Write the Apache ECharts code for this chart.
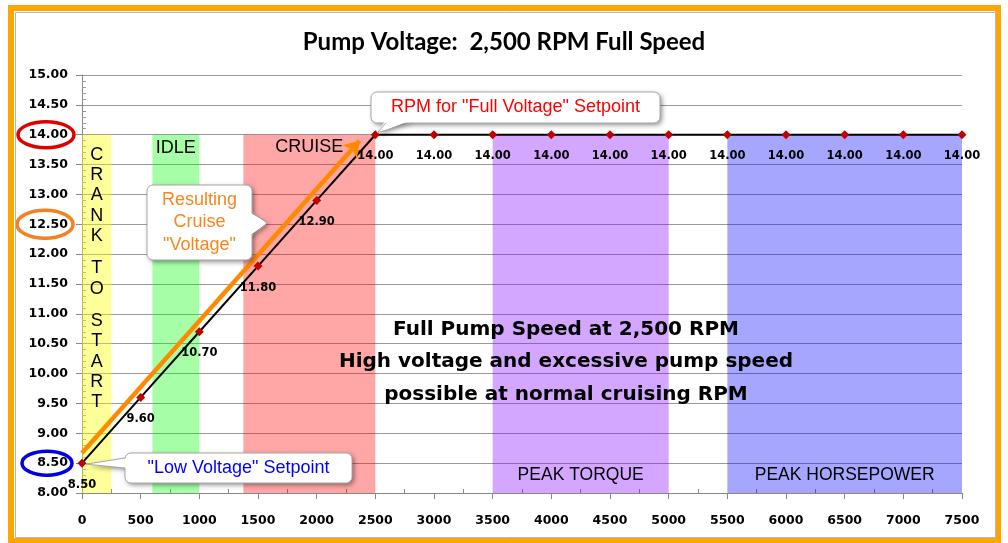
<!DOCTYPE html>
<html><head><meta charset="utf-8">
<script src="https://cdn.jsdelivr.net/npm/echarts@6/dist/echarts.min.js"></script>
<style>html,body{margin:0;padding:0;background:#fff}#c{width:1008px;height:543px}</style>
</head><body><div id="c"></div>
<script>
// ---- data ----
const rpm = [0, 500, 1000, 1500, 2000, 2500, 3000, 3500, 4000, 4500, 5000, 5500, 6000, 6500, 7000, 7500];
const voltage = [8.50, 9.60, 10.70, 11.80, 12.90, 14.00, 14.00, 14.00, 14.00, 14.00, 14.00, 14.00, 14.00, 14.00, 14.00, 14.00];
const xMin = 0, xMax = 7500, xStep = 500;
const yMin = 8, yMax = 15, yStep = 0.5;
const bandNames = ['CRANK TO START', 'IDLE', 'CRUISE', 'PEAK TORQUE', 'PEAK HORSEPOWER'];
const bandFrom = [0, 600, 1375, 3500, 5500];
const bandTo = [250, 1000, 2500, 5000, 7500];
const bandBottom = 8, bandTop = 14;
const arrowStart = [0, 8.67];
const arrowEnd = [2365, 13.9];
const circledTicks = [14.0, 12.5, 8.5];
const calloutFull = 'RPM for "Full Voltage" Setpoint';
const calloutCruise = 'Resulting\nCruise\n"Voltage"';
const calloutLow = '"Low Voltage" Setpoint';
const noteText = 'Full Pump Speed at 2,500 RPM\nHigh voltage and excessive pump speed\npossible at normal cruising RPM';
const titleText = 'Pump Voltage:  2,500 RPM Full Speed';

// ---- styles ----
const bandColors = ['rgba(255,255,0,0.40)', 'rgba(0,255,0,0.35)', 'rgba(255,0,0,0.35)', 'rgba(128,0,255,0.35)', 'rgba(0,0,255,0.35)'];
const bandLabel = [
  { position: 'insideTop', distance: 10, fontSize: 18, lineHeight: 20.3,
    formatter: 'C\nR\nA\nN\nK\n{s| }\nT\nO\n{s| }\nS\nT\nA\nR\nT', rich: { s: { lineHeight: 12, fontSize: 2 } } },
  { position: 'insideTop', distance: 4, fontSize: 18 },
  { position: 'insideTop', distance: 3, fontSize: 18 },
  { position: 'insideBottom', distance: 9, fontSize: 17.5 },
  { position: 'insideBottom', distance: 9, fontSize: 17.5 }
];

const chart = echarts.init(document.getElementById('c'), null, { renderer: 'canvas' });

const areaData = bandNames.map((n, i) => {
  const lab = Object.assign({ show: true, color: '#000', fontFamily: 'Liberation Sans, Arial, sans-serif' }, bandLabel[i]);
  if (!lab.formatter) lab.formatter = n;
  return [
    { name: n, xAxis: bandFrom[i], yAxis: bandBottom, itemStyle: { color: bandColors[i] }, label: lab },
    { xAxis: bandTo[i], yAxis: bandTop }
  ];
});

chart.setOption({
  animation: false,
  backgroundColor: '#fff',
  title: {
    text: titleText, left: 'center', top: 25,
    textStyle: { fontSize: 24, fontWeight: 'bold', fontFamily: 'Lato, Carlito, sans-serif', color: '#000' }
  },
  grid: { left: 82, right: 46, top: 75, bottom: 50, containLabel: false },
  xAxis: {
    type: 'value', min: xMin, max: xMax, interval: xStep,
    axisLine: { show: true, lineStyle: { color: '#888', width: 1 } },
    axisTick: { show: true, length: 6, lineStyle: { color: '#888' } },
    minorTick: { show: true, splitNumber: 2, length: -4, lineStyle: { color: '#888' } },
    splitLine: { show: false },
    axisLabel: { margin: 21, color: '#000', fontWeight: 'bold', fontSize: 12.5, fontFamily: 'DejaVu Sans, Verdana, sans-serif',
      formatter: v => String(v) }
  },
  yAxis: {
    type: 'value', min: yMin, max: yMax, interval: yStep,
    axisLine: { show: true, lineStyle: { color: '#888', width: 1 } },
    axisTick: { show: true, length: 6, lineStyle: { color: '#888' } },
    minorTick: { show: true, splitNumber: 5, length: -4, lineStyle: { color: '#999' } },
    splitLine: { show: true, lineStyle: { color: '#9a9a9a', width: 1 } },
    axisLabel: { margin: 14, color: '#000', fontWeight: 'bold', fontSize: 12.5, fontFamily: 'DejaVu Sans, Verdana, sans-serif',
      formatter: v => v.toFixed(2) }
  },
  series: [
    {
      name: 'Pump Voltage', type: 'line', z: 2,
      data: rpm.map((x, i) => [x, voltage[i]]),
      lineStyle: { color: '#000', width: 2 },
      symbol: 'diamond', symbolSize: 9,
      itemStyle: { color: '#C00000' },
      label: { show: true, position: 'bottom', distance: 11, color: '#000', fontWeight: 'bold', fontSize: 11.5,
        fontFamily: 'DejaVu Sans, Verdana, sans-serif', formatter: p => p.value[1].toFixed(2) }
    },
    {
      name: 'bands', type: 'line', z: 5, silent: true, data: [],
      markArea: { silent: true, data: areaData }
    },
    {
      name: 'arrow', type: 'line', z: 6, silent: true, data: [],
      markLine: {
        silent: true, symbol: ['none', 'arrow'], symbolSize: 15,
        lineStyle: { color: '#FF8A00', width: 4.5, type: 'solid' },
        label: { show: false },
        data: [[{ coord: arrowStart }, { coord: arrowEnd }]]
      }
    }
  ]
});

// ---- annotations (graphics) ----
function callout(box, pts, inward, text, color, font, lh) {
  const [bx, by, bw, bh] = box;
  const [b1, tip, b2] = pts;
  const i1 = [b1[0] + inward[0] * 3, b1[1] + inward[1] * 3];
  const i2 = [b2[0] + inward[0] * 3, b2[1] + inward[1] * 3];
  const shadow = { shadowBlur: 5, shadowColor: 'rgba(0,0,0,0.45)', shadowOffsetX: 2, shadowOffsetY: 2 };
  return [
    { type: 'rect', z: 100, shape: { x: bx, y: by, width: bw, height: bh, r: 6 }, style: Object.assign({ fill: '#fff' }, shadow) },
    { type: 'polygon', z: 100, shape: { points: [i1, tip, i2] }, style: Object.assign({ fill: '#fff' }, shadow) },
    { type: 'rect', z: 101, shape: { x: bx, y: by, width: bw, height: bh, r: 6 }, style: { fill: '#fff', stroke: '#a8a8a8', lineWidth: 1 } },
    { type: 'polygon', z: 102, shape: { points: [i1, tip, i2] }, style: { fill: '#fff' } },
    { type: 'polyline', z: 103, shape: { points: [b1, tip, b2] }, style: { stroke: '#a8a8a8', lineWidth: 1, fill: null } },
    { type: 'text', z: 104, x: bx + bw / 2, y: by + bh / 2,
      style: { text: text, fill: color, font: font, lineHeight: lh, align: 'center', verticalAlign: 'middle' } }
  ];
}

function drawGraphics() {
  const yPx = v => chart.convertToPixel({ yAxisIndex: 0 }, v);
  const pt = (x, y) => chart.convertToPixel({ xAxisIndex: 0, yAxisIndex: 0 }, [x, y]);
  const ellColors = ['#E00000', '#F58220', '#0000E0'];
  const ellX = [46, 45, 47], ellRx = [28, 28, 25], ellRy = [13, 14, 12];
  const els = [];
  // frame
  els.push({ type: 'rect', z: 200, shape: { x: 11, y: 8, width: 987, height: 533 }, style: { fill: null, stroke: '#FFA500', lineWidth: 6 } });
  els.push({ type: 'rect', z: 200, shape: { x: 15.5, y: 12.5, width: 980, height: 525 }, style: { fill: null, stroke: '#b8b8b8', lineWidth: 1 } });
  // ellipses around tick labels
  circledTicks.forEach((v, i) => {
    els.push({ type: 'ellipse', z: 150, shape: { cx: ellX[i], cy: yPx(v), rx: ellRx[i], ry: ellRy[i] },
      style: { fill: null, stroke: ellColors[i], lineWidth: 3.5 } });
  });
  // callouts
  const pFull = pt(rpm[5], voltage[5]);
  const pLow = pt(rpm[0], voltage[0]);
  const font = '18px "Liberation Sans", Arial, sans-serif';
  els.push(...callout([371, 92, 289, 31], [[386, 123], [pFull[0] + 2, pFull[1] - 2], [412, 123]], [0, -1], calloutFull, '#FF0000', font, 20));
  els.push(...callout([147, 185, 105, 75], [[252, 212], [267, 223], [252, 236]], [-1, 0], calloutCruise, '#F7861E', font, 22.5));
  els.push(...callout([125, 453, 227, 30], [[125, 458], [pLow[0] + 4, pLow[1] + 1], [125, 468]], [1, 0], calloutLow, '#0000FF', font, 20));
  // note
  els.push({ type: 'text', z: 120, x: 566, y: 362,
    style: { text: noteText, fill: '#000', font: 'bold 20px "DejaVu Sans", sans-serif', lineHeight: 32.5, align: 'center', verticalAlign: 'middle' } });
  chart.setOption({ graphic: { elements: els } });
}
drawGraphics();
</script>
</body></html>
